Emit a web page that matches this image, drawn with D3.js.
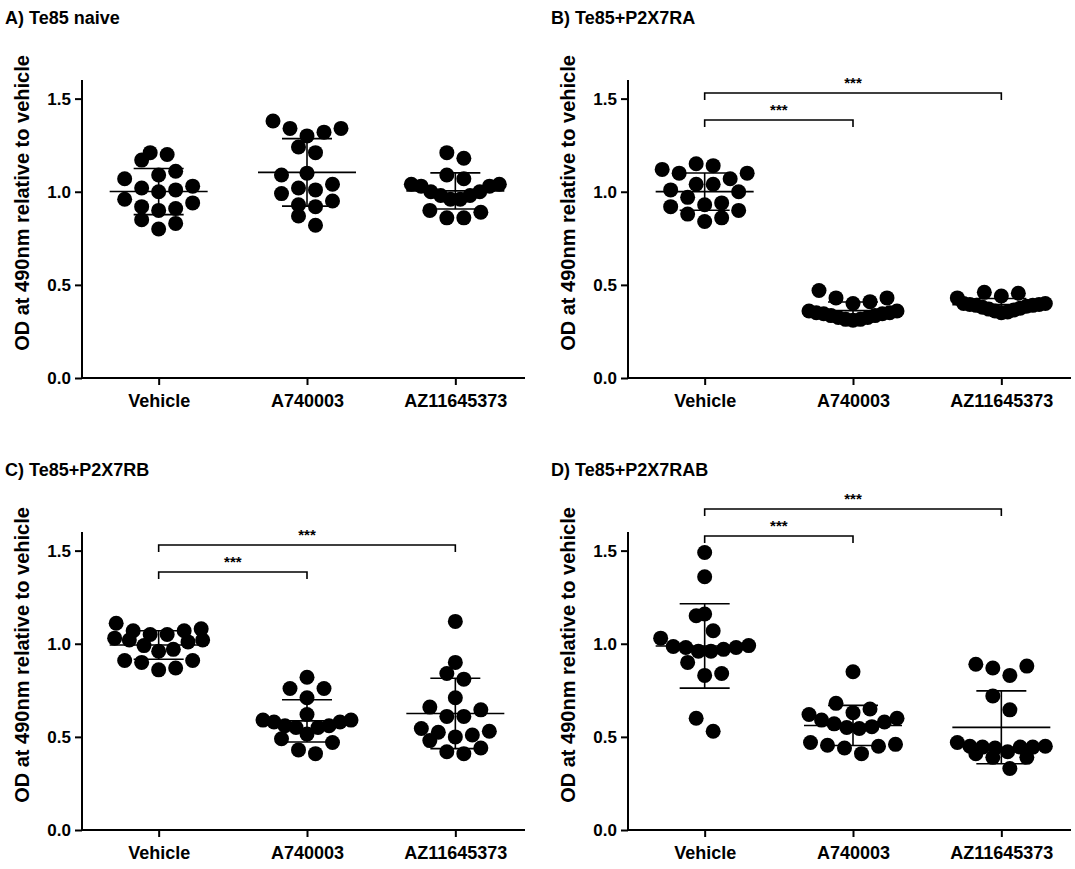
<!DOCTYPE html>
<html>
<head>
<meta charset="utf-8">
<script src="https://cdnjs.cloudflare.com/ajax/libs/d3/7.8.5/d3.min.js"></script>
<style>
  body { margin: 0; background: #fff; }
  svg { font-family: Arial, "Liberation Sans", sans-serif; font-weight: bold; }
</style>
</head>
<body>
<svg id="chart" width="1075" height="869"></svg>
<script>
// categories / ticks
var groups = ["Vehicle", "A740003", "AZ11645373"];
var yTicks = [0, 0.5, 1.0, 1.5];
var panelTitles = ["A) Te85 naive", "B) Te85+P2X7RA", "C) Te85+P2X7RB", "D) Te85+P2X7RAB"];
var yLabel = "OD at 490nm relative to vehicle";

// A) Te85 naive
var naiveVehicle = [1.21, 1.17, 1.20, 1.07, 1.09, 1.11, 1.02, 1.00, 1.01, 1.03, 0.94, 0.96, 0.91, 0.90, 0.92, 0.85, 0.83, 0.80];
var naiveA740003 = [1.38, 1.34, 1.32, 1.34, 1.30, 1.24, 1.21, 1.09, 1.10, 0.99, 1.02, 1.04, 1.01, 0.93, 0.92, 0.95, 0.87, 0.82];
var naiveAZ = [1.21, 1.18, 1.09, 1.07, 1.04, 1.04, 1.03, 1.03, 1.00, 1.00, 0.98, 0.98, 0.96, 0.96, 0.90, 0.89, 0.86, 0.86];

// B) Te85+P2X7RA
var raVehicle = [1.14, 1.15, 1.10, 1.07, 1.10, 1.12, 1.04, 1.04, 1.00, 1.01, 0.97, 0.94, 0.93, 0.92, 0.88, 0.90, 0.86, 0.84];
var raA740003 = [0.47, 0.43, 0.41, 0.40, 0.43, 0.36, 0.35, 0.345, 0.335, 0.325, 0.315, 0.31, 0.315, 0.325, 0.335, 0.345, 0.35, 0.36];
var raAZ = [0.46, 0.43, 0.44, 0.455, 0.40, 0.395, 0.39, 0.385, 0.375, 0.365, 0.355, 0.35, 0.36, 0.37, 0.38, 0.39, 0.395, 0.40];

// C) Te85+P2X7RB
var rbVehicle = [1.11, 1.08, 1.07, 1.07, 1.05, 1.05, 1.02, 1.01, 1.02, 1.03, 0.99, 0.97, 0.96, 0.91, 0.90, 0.91, 0.86, 0.87];
var rbA740003 = [0.82, 0.76, 0.76, 0.71, 0.62, 0.59, 0.58, 0.56, 0.55, 0.515, 0.55, 0.56, 0.58, 0.59, 0.47, 0.49, 0.41, 0.43];
var rbAZ = [1.12, 0.90, 0.81, 0.84, 0.71, 0.645, 0.61, 0.61, 0.66, 0.545, 0.525, 0.51, 0.53, 0.50, 0.48, 0.44, 0.41, 0.42];

// D) Te85+P2X7RAB
var rabVehicle = [1.49, 1.36, 1.15, 1.16, 1.07, 0.99, 0.98, 0.97, 0.96, 0.96, 0.98, 0.985, 1.03, 0.90, 0.84, 0.83, 0.60, 0.53];
var rabA740003 = [0.85, 0.65, 0.68, 0.62, 0.63, 0.59, 0.57, 0.55, 0.545, 0.555, 0.58, 0.60, 0.46, 0.45, 0.41, 0.44, 0.455, 0.47];
var rabAZ = [0.89, 0.87, 0.88, 0.83, 0.72, 0.645, 0.45, 0.445, 0.445, 0.44, 0.445, 0.45, 0.47, 0.42, 0.39, 0.39, 0.41, 0.33];

// significance brackets: [from, to, label]
var sigNone = [];
var sigTreated = [["Vehicle", "A740003", "***"], ["Vehicle", "AZ11645373", "***"]];

var panels = [
  { title: panelTitles[0], series: [naiveVehicle, naiveA740003, naiveAZ], sig: sigNone, left: 0, top: 0, lift: 0 },
  { title: panelTitles[1], series: [raVehicle, raA740003, raAZ], sig: sigTreated, left: 546, top: 0, lift: 0 },
  { title: panelTitles[2], series: [rbVehicle, rbA740003, rbAZ], sig: sigTreated, left: 0, top: 452, lift: 0 },
  { title: panelTitles[3], series: [rabVehicle, rabA740003, rabAZ], sig: sigTreated, left: 546, top: 452, lift: 36 }
];

var svg = d3.select("#chart");
var dotR = 7.5, rowPx = 15, maxStep = 17, maxSpan = 88;

// GraphPad-ish scatter: bin into rows, spread each row from the centre out
function swarm(values, y) {
  var pts = values.map(function(v) { return { v: v, dx: 0 }; })
    .sort(function(a, b) { return a.v - b.v; });
  var rows = [], cur = null;
  pts.forEach(function(d) {
    if (!cur || y(cur[0].v) - y(d.v) > rowPx) { cur = []; rows.push(cur); }
    cur.push(d);
  });
  rows.forEach(function(row) {
    var n = row.length;
    var step = n > 1 ? Math.min(maxStep, maxSpan / (n - 1)) : 0;
    var slots = d3.range(n).map(function(k) { return (k - (n - 1) / 2) * step; });
    slots.sort(function(a, b) { return Math.abs(a) - Math.abs(b) || b - a; });
    row.forEach(function(d, i) { d.dx = slots[i]; });
  });
  return pts;
}

panels.forEach(function(p) {
  var g = svg.append("g").attr("transform", "translate(" + p.left + "," + p.top + ")");
  var x0 = 82, x1 = 525, yBot = 378, yTop = 80;

  var x = d3.scalePoint().domain(groups).range([84.5, 529.5]).padding(0.5);
  var y = d3.scaleLinear().domain([0, 1.6]).range([yBot, yTop]);

  g.append("text").attr("x", 5).attr("y", 24)
    .attr("font-size", 18).text(p.title);

  // y axis
  var yAx = g.append("g").attr("transform", "translate(" + x0 + ",0)")
    .call(d3.axisLeft(y).tickValues(yTicks).tickSize(7).tickPadding(4)
      .tickFormat(d3.format(".1f")));
  yAx.selectAll("text").attr("font-size", 17).attr("fill", "#000");
  yAx.selectAll("line,path").attr("stroke", "#000").attr("stroke-width", 2);
  yAx.select(".domain").attr("d", "M0," + yTop + "V" + yBot);

  // x axis
  var xAx = g.append("g").attr("transform", "translate(0," + yBot + ")")
    .call(d3.axisBottom(x).tickSize(7).tickPadding(9));
  xAx.selectAll("text").attr("font-size", 18).attr("fill", "#000");
  xAx.selectAll("line,path").attr("stroke", "#000").attr("stroke-width", 2);
  xAx.select(".domain").attr("d", "M" + (x0 - 1) + ",0H" + x1);

  g.append("text")
    .attr("transform", "translate(29," + ((yTop + yBot) / 2 - 26) + ") rotate(-90)")
    .attr("text-anchor", "middle").attr("font-size", 20).text(yLabel);

  p.series.forEach(function(vals, gi) {
    var cx = x(groups[gi]);
    var pts = swarm(vals, y);
    g.append("g").selectAll("circle").data(pts).enter().append("circle")
      .attr("cx", function(d) { return cx + d.dx; })
      .attr("cy", function(d) { return y(d.v); })
      .attr("r", dotR).attr("fill", "#000");

    var m = d3.mean(vals), sd = d3.deviation(vals);
    var eb = g.append("g").attr("stroke", "#000").attr("stroke-width", 1.6);
    eb.append("line").attr("x1", cx - 49).attr("x2", cx + 49).attr("y1", y(m)).attr("y2", y(m));
    eb.append("line").attr("x1", cx).attr("x2", cx).attr("y1", y(m - sd)).attr("y2", y(m + sd));
    [m - sd, m + sd].forEach(function(v) {
      eb.append("line").attr("x1", cx - 25).attr("x2", cx + 25).attr("y1", y(v)).attr("y2", y(v));
    });
  });

  // brackets, lower one first
  p.sig.forEach(function(s, si) {
    var by = yTop + 40 - si * 27 - p.lift;
    var xa = x(s[0]), xb = x(s[1]);
    g.append("path")
      .attr("d", "M" + xa + "," + (by + 7) + "V" + by + "H" + xb + "V" + (by + 7))
      .attr("fill", "none").attr("stroke", "#000").attr("stroke-width", 1.6);
    g.append("text").attr("x", (xa + xb) / 2).attr("y", by - 5)
      .attr("text-anchor", "middle").attr("font-size", 15).text(s[2]);
  });
});
</script>
</body>
</html>
